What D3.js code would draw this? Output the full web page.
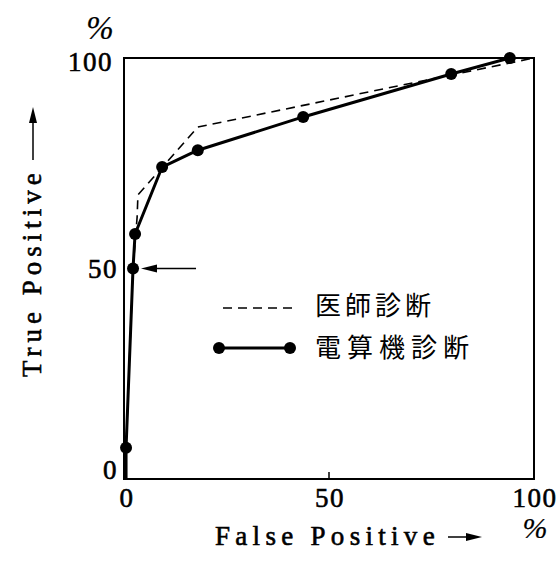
<!DOCTYPE html>
<html>
<head>
<meta charset="utf-8">
<script src="https://cdn.jsdelivr.net/npm/d3@7"></script>
<style>
  html, body { margin: 0; padding: 0; background: #fff; }
  svg { display: block; }
  .serif { font-family: "Liberation Serif", "DejaVu Serif", serif; fill: #000; stroke: #000; stroke-width: 0.6px; }
  .cjk { font-family: "Noto Sans CJK JP", "Noto Sans CJK SC", sans-serif; fill: #000; }
</style>
</head>
<body>
<svg id="chart" width="560" height="563"></svg>
<script>
// ---- data (percent) ----
const xTicks = [0, 50, 100];
const yTicks = [0, 50, 100];
const tickLabels = ["0", "50", "100"];
// Computer diagnosis (電算機診断): false positive %, true positive %
const compFP = [0.5, 2.2, 2.7, 9.3, 18.0, 43.7, 79.8, 94.1];
const compTP = [7.4, 50.0, 58.2, 74.1, 78.1, 86.0, 96.2, 100.0];
// Physician diagnosis (医師診断)
const docFP = [0.5, 0.5, 2.2, 3.2, 3.4, 18.0, 100.0];
const docTP = [0.0, 7.4, 50.0, 62.2, 67.5, 83.6, 100.0];
const legendLabels = ["医師診断", "電算機診断"];
const xTitle = "False Positive";
const yTitle = "True Positive";
const arrowTarget = 1; // index of comp point marked with arrow (50%)

// ---- drawing ----
const svg = d3.select("#chart");
const x = d3.scaleLinear().domain([0, 100]).range([124, 534]);
const y = d3.scaleLinear().domain([0, 100]).range([479, 58]);

// frame
svg.append("path")
  .attr("d", `M${x(0)},${y(100)}L${x(100)},${y(100)}L${x(100)},${y(0)}L${x(0)},${y(0)}Z`)
  .attr("fill", "none").attr("stroke", "#000").attr("stroke-width", 2);

// small inner tick at x=50
svg.append("line")
  .attr("x1", x(50)).attr("x2", x(50))
  .attr("y1", y(0)).attr("y2", y(0) - 7)
  .attr("stroke", "#000").attr("stroke-width", 1.5);

// tick labels
svg.selectAll(".xt").data(xTicks).join("text")
  .attr("class", "serif")
  .attr("x", d => x(d) + (d === 0 ? 3 : 1))
  .attr("y", y(0) + 28)
  .attr("text-anchor", "middle")
  .attr("font-size", 27).attr("letter-spacing", 1.5)
  .text((d, i) => tickLabels[i]);

svg.selectAll(".yt").data(yTicks).join("text")
  .attr("class", "serif")
  .attr("x", d => x(0) - (d === 100 ? 11 : 6))
  .attr("y", d => y(d) + 9 - (d === 0 ? 9 : 0) + (d === 100 ? 4 : 0))
  .attr("text-anchor", "end")
  .attr("font-size", 27).attr("letter-spacing", 1.5)
  .text((d, i) => tickLabels[i]);

// percent signs
svg.append("text").attr("class", "serif")
  .attr("x", 100).attr("y", 39).attr("text-anchor", "middle")
  .attr("font-size", 33).attr("font-style", "italic").style("stroke-width", "0.2px").text("%");
svg.append("text").attr("class", "serif")
  .attr("x", x(100) + 1).attr("y", 538).attr("text-anchor", "middle")
  .attr("font-size", 30).attr("font-style", "italic").style("stroke-width", "0.2px").text("%");

// physician dashed line
const docData = docFP.map((v, i) => [v, docTP[i]]);
const line = d3.line().x(d => x(d[0])).y(d => y(d[1]));
svg.append("path")
  .attr("d", line(docData))
  .attr("fill", "none").attr("stroke", "#000")
  .attr("stroke-width", 1.6).attr("stroke-dasharray", "9,6");

// computer solid line (starts from origin)
const compData = compFP.map((v, i) => [v, compTP[i]]);
svg.append("path")
  .attr("d", line([[compFP[0], 0]].concat(compData)))
  .attr("fill", "none").attr("stroke", "#000")
  .attr("stroke-width", 3).attr("stroke-linejoin", "round");
svg.selectAll(".dot").data(compData).join("circle")
  .attr("cx", d => x(d[0])).attr("cy", d => y(d[1])).attr("r", 6)
  .attr("fill", "#000");

// arrow pointing to 50% point
const ap = compData[arrowTarget];
const ax = x(ap[0]), ay = y(ap[1]);
svg.append("line")
  .attr("x1", ax + 14).attr("x2", ax + 63)
  .attr("y1", ay).attr("y2", ay)
  .attr("stroke", "#000").attr("stroke-width", 1.5);
svg.append("path")
  .attr("d", `M${ax + 8},${ay}L${ax + 24},${ay - 4}L${ax + 24},${ay + 4}Z`)
  .attr("fill", "#000");

// legend
svg.append("line")
  .attr("x1", 223).attr("x2", 292).attr("y1", 308).attr("y2", 308)
  .attr("stroke", "#000").attr("stroke-width", 1.6).attr("stroke-dasharray", "9,6");
svg.append("text").attr("class", "cjk")
  .attr("x", 315).attr("y", 315).attr("font-size", 26)
  .attr("letter-spacing", 4).text(legendLabels[0]);
svg.append("line")
  .attr("x1", 219).attr("x2", 290).attr("y1", 348).attr("y2", 348)
  .attr("stroke", "#000").attr("stroke-width", 3);
svg.selectAll(".ldot").data([219, 290]).join("circle")
  .attr("cx", d => d).attr("cy", 348).attr("r", 6).attr("fill", "#000");
svg.append("text").attr("class", "cjk")
  .attr("x", 315).attr("y", 357).attr("font-size", 26)
  .attr("letter-spacing", 6).text(legendLabels[1]);

// x title + arrow
svg.append("text").attr("class", "serif")
  .attr("x", 215).attr("y", 545).attr("font-size", 27)
  .attr("letter-spacing", 5.3).text(xTitle);
svg.append("line")
  .attr("x1", 448).attr("x2", 470).attr("y1", 537).attr("y2", 537)
  .attr("stroke", "#000").attr("stroke-width", 1.5);
svg.append("path").attr("d", "M482,537L466,533L466,541Z").attr("fill", "#000");

// y title + arrow
svg.append("text").attr("class", "serif")
  .attr("transform", "translate(41,377) rotate(-90)")
  .attr("font-size", 27).attr("letter-spacing", 5).text(yTitle);
svg.append("line")
  .attr("x1", 33).attr("x2", 33).attr("y1", 160).attr("y2", 120)
  .attr("stroke", "#000").attr("stroke-width", 1.5);
svg.append("path").attr("d", "M33,107L29,123L37,123Z").attr("fill", "#000");
</script>
</body>
</html>
